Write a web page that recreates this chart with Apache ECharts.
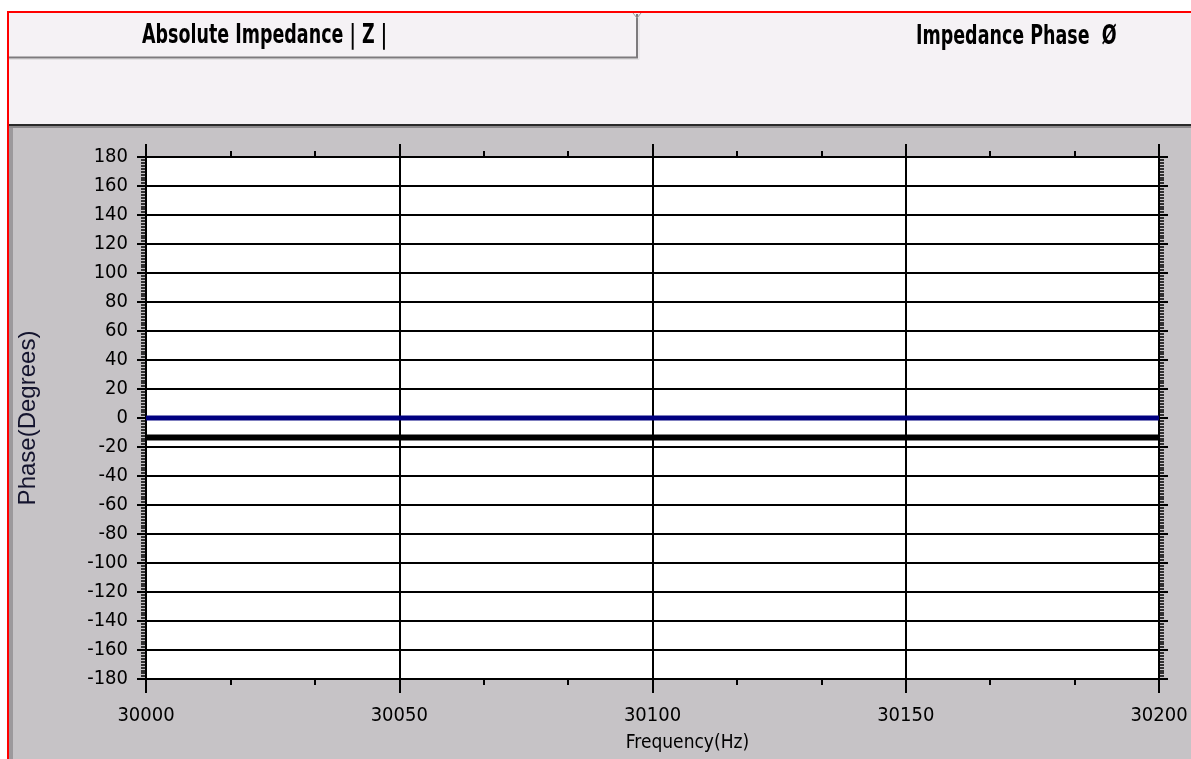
<!DOCTYPE html>
<html>
<head>
<meta charset="utf-8">
<script src="https://cdn.jsdelivr.net/npm/echarts@6/dist/echarts.min.js"></script>
<style>
  html, body { margin: 0; padding: 0; background: #ffffff; }
  #chart { width: 1191px; height: 759px; }
</style>
</head>
<body>
<div id="chart"></div>
<script>
// Sweep frequencies (Hz) and the measured phase of each trace (degrees)
const frequencies = [30000, 30050, 30100, 30150, 30200];
const phaseBlue   = [0, 0, 0, 0, 0];
const phaseBlack  = [-13.5, -13.5, -13.5, -13.5, -13.5];

// Axis ranges
const freqMin = 30000, freqMax = 30200, freqStep = 50;
const phaseMin = -180, phaseMax = 180, phaseStep = 20;

// Tab captions
const tabLabels = ['Absolute Impedance | Z |', 'Impedance Phase  \u00D8'];

const narrow = '"Liberation Sans Narrow", "Arial Narrow", "DejaVu Sans Condensed", sans-serif';
const INK = '#000000';

const chart = echarts.init(document.getElementById('chart'), null, { renderer: 'canvas' });

// Phase axis drawn on both sides of the plot: major and minor ticks point outward
function phaseAxis(position, extra) {
  return Object.assign({
    type: 'value', position: position,
    min: phaseMin, max: phaseMax, interval: phaseStep,
    axisLine: { show: true, onZero: false, lineStyle: { color: INK, width: 2 } },
    axisTick: { show: true, length: 9, lineStyle: { color: INK, width: 2 } },
    minorTick: { show: true, splitNumber: 10, length: 5, lineStyle: { color: INK, width: 1.5 } },
    splitLine: { show: false },
    axisLabel: { show: false }
  }, extra || {});
}

const option = {
  backgroundColor: '#ffffff',
  animation: false,
  graphic: [
    // window frame
    { type: 'rect', z: -20, shape: { x: 9, y: 13, width: 1182, height: 112 }, style: { fill: '#f5f2f5' } },
    { type: 'rect', z: -20, shape: { x: 9, y: 127, width: 1182, height: 632 }, style: { fill: '#c6c3c6' } },
    { type: 'rect', z: -19, shape: { x: 9, y: 127, width: 4, height: 632 }, style: { fill: '#9c999c' } },
    { type: 'rect', z: -19, shape: { x: 9, y: 124, width: 1182, height: 2 }, style: { fill: '#2a2a2a' } },
    { type: 'rect', z: -19, shape: { x: 9, y: 126, width: 1182, height: 2 }, style: { fill: '#8c8a8c' } },
    { type: 'rect', z: -18, shape: { x: 7, y: 11, width: 1184, height: 2 }, style: { fill: '#ff0000' } },
    { type: 'rect', z: -18, shape: { x: 7, y: 11, width: 2, height: 748 }, style: { fill: '#ff0000' } },
    // unselected tab outline
    { type: 'polyline', z: -18, shape: { points: [[9, 57.5], [637, 57.5], [637, 14]] }, style: { stroke: '#7d7b7d', lineWidth: 2, fill: null } },
    { type: 'polyline', z: -18, shape: { points: [[9, 59.5], [639, 59.5], [639, 14]] }, style: { stroke: '#e2e0e2', lineWidth: 1, fill: null } },
    { type: 'polyline', z: -18, shape: { points: [[633, 13], [637, 18], [641, 13]] }, style: { stroke: '#9a989a', lineWidth: 1, fill: null } },
    // tab captions
    { type: 'text', z: 10, x: 142, y: 36, scaleX: 0.72,
      style: { text: tabLabels[0], font: 'bold 27px ' + narrow, fill: '#000', textVerticalAlign: 'middle', textAlign: 'left' } },
    { type: 'text', z: 10, x: 916, y: 37, scaleX: 0.72,
      style: { text: tabLabels[1], font: 'bold 27px ' + narrow, fill: '#000', textVerticalAlign: 'middle', textAlign: 'left' } }
  ],
  grid: {
    left: 146, right: 32, top: 157, bottom: 80,
    outerBoundsMode: 'none', containLabel: false,
    show: true, backgroundColor: '#ffffff', borderWidth: 0
  },
  xAxis: [
    {
      type: 'value', position: 'bottom',
      min: freqMin, max: freqMax, interval: freqStep,
      name: 'Frequency(Hz)', nameLocation: 'middle', nameGap: 55,
      nameTextStyle: { fontFamily: narrow, fontSize: 19, color: INK, padding: [0, 0, 0, 70] },
      axisLine: { show: true, onZero: false, lineStyle: { color: INK, width: 2 } },
      axisTick: { show: true, length: 14, lineStyle: { color: INK, width: 2 } },
      minorTick: { show: true, splitNumber: 3, length: 6, lineStyle: { color: INK, width: 2 } },
      splitLine: { show: true, lineStyle: { color: INK, width: 2 } },
      axisLabel: { margin: 27, fontFamily: narrow, fontSize: 20, color: INK,
                   showMinLabel: true, showMaxLabel: true, formatter: (v) => String(v) }
    },
    {
      type: 'value', position: 'top',
      min: freqMin, max: freqMax, interval: freqStep,
      axisLine: { show: true, onZero: false, lineStyle: { color: INK, width: 2 } },
      axisTick: { show: true, length: 13, lineStyle: { color: INK, width: 2 } },
      minorTick: { show: true, splitNumber: 3, length: 6, lineStyle: { color: INK, width: 2 } },
      splitLine: { show: false },
      axisLabel: { show: false }
    }
  ],
  yAxis: [
    phaseAxis('left', {
      name: 'Phase(Degrees)', nameLocation: 'middle', nameGap: 106, nameRotate: 90,
      nameTextStyle: { fontFamily: '"Liberation Sans", Arial, sans-serif', fontSize: 24, color: '#14142e' },
      splitLine: { show: true, lineStyle: { color: INK, width: 2 } },
      axisLabel: { show: true, margin: 18, fontFamily: narrow, fontSize: 20, color: INK }
    }),
    phaseAxis('right')
  ],
  series: [
    {
      type: 'line', xAxisIndex: 0, yAxisIndex: 0, showSymbol: false, z: 5,
      data: frequencies.map((f, i) => [f, phaseBlack[i]]),
      lineStyle: { color: '#000000', width: 6 }
    },
    {
      type: 'line', xAxisIndex: 0, yAxisIndex: 0, showSymbol: false, z: 6,
      data: frequencies.map((f, i) => [f, phaseBlue[i]]),
      lineStyle: { color: '#000080', width: 5 }
    }
  ]
};

chart.setOption(option);
</script>
</body>
</html>
